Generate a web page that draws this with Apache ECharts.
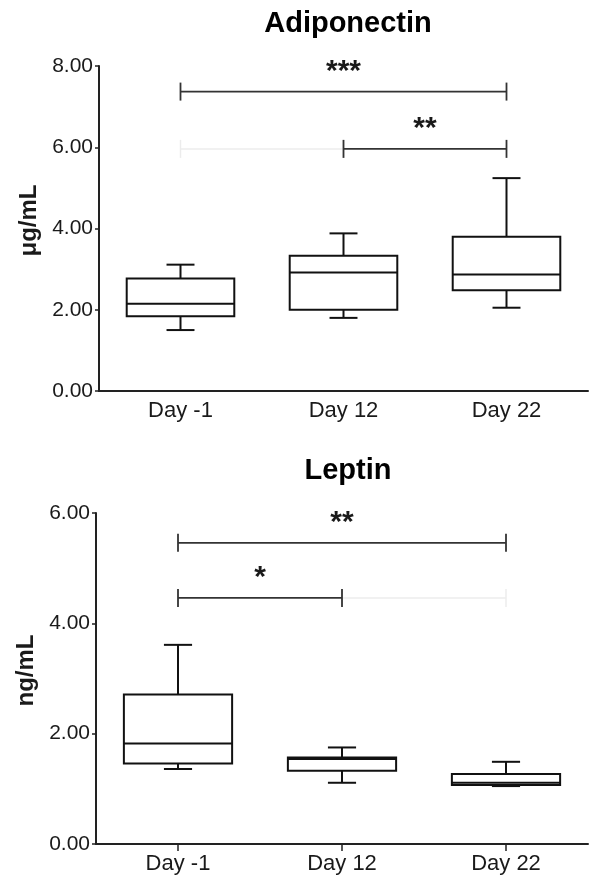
<!DOCTYPE html>
<html>
<head>
<meta charset="utf-8">
<script src="https://cdn.jsdelivr.net/npm/echarts@6/dist/echarts.min.js"></script>
<style>
  html, body { margin: 0; padding: 0; background: #fff; }
  #chart { width: 589px; height: 875px; }
</style>
</head>
<body>
<div id="chart"></div>
<script>
// categories shared by both panels
const categories = ['Day -1', 'Day 12', 'Day 22'];

// box values: [min, Q1, median, Q3, max]
const adiponectinBox = [
  [1.50, 1.84, 2.15, 2.77, 3.11],
  [1.80, 2.00, 2.92, 3.33, 3.88],
  [2.05, 2.48, 2.87, 3.80, 5.24]
];
const leptinBox = [
  [1.36, 1.46, 1.82, 2.71, 3.61],
  [1.11, 1.33, 1.54, 1.57, 1.75],
  [1.05, 1.07, 1.11, 1.27, 1.49]
];

// significance brackets: [from index, to index, height, stars]
const adiponectinSig = [[0, 2, 7.37, '***'], [1, 2, 5.96, '**']];
const leptinSig = [[0, 2, 5.46, '**'], [0, 1, 4.46, '*']];
// faint leftover brackets in the figure
const adiponectinGhost = [[0, 1, 5.96, '']];
const leptinGhost = [[1, 2, 4.46, '']];

const yTicksAdipo = { min: 0, max: 8, interval: 2 };
const yTicksLeptin = { min: 0, max: 6, interval: 2 };

const FONT = 'Liberation Sans, Arial, Helvetica, sans-serif';
const INK = '#1a1a1a';

const chart = echarts.init(document.getElementById('chart'));

// draws one box-and-whisker from api coords
const renderBox = (params, api) => {
  const x = api.value(0);
  const lo = api.coord([x, api.value(1)]);
  const q1 = api.coord([x, api.value(2)]);
  const med = api.coord([x, api.value(3)]);
  const q3 = api.coord([x, api.value(4)]);
  const hi = api.coord([x, api.value(5)]);
  const bw = api.size([1, 0])[0] * 0.66;
  const cap = bw * 0.26;
  const cx = q1[0];
  const st = { stroke: '#111', lineWidth: 2, fill: null };
  return {
    type: 'group',
    children: [
      { type: 'line', shape: { x1: cx, y1: q3[1], x2: cx, y2: hi[1] }, style: st },
      { type: 'line', shape: { x1: cx - cap / 2, y1: hi[1], x2: cx + cap / 2, y2: hi[1] }, style: st },
      { type: 'line', shape: { x1: cx, y1: q1[1], x2: cx, y2: lo[1] }, style: st },
      { type: 'line', shape: { x1: cx - cap / 2, y1: lo[1], x2: cx + cap / 2, y2: lo[1] }, style: st },
      { type: 'rect', shape: { x: cx - bw / 2, y: q3[1], width: bw, height: q1[1] - q3[1] },
        style: { stroke: '#111', lineWidth: 2, fill: '#fff' } },
      { type: 'line', shape: { x1: cx - bw / 2, y1: med[1], x2: cx + bw / 2, y2: med[1] }, style: st }
    ]
  };
};

// draws a significance bracket with end ticks and stars
const makeBracketRenderer = (color, width) => (params, api) => {
  const a = api.coord([api.value(0), api.value(2)]);
  const b = api.coord([api.value(1), api.value(2)]);
  const st = { stroke: color, lineWidth: width };
  const label = api.value(3);
  const kids = [
    { type: 'line', shape: { x1: a[0], y1: a[1], x2: b[0], y2: b[1] }, style: st },
    { type: 'line', shape: { x1: a[0], y1: a[1] - 9, x2: a[0], y2: a[1] + 9 }, style: st },
    { type: 'line', shape: { x1: b[0], y1: b[1] - 9, x2: b[0], y2: b[1] + 9 }, style: st }
  ];
  if (label) {
    kids.push({
      type: 'text',
      style: {
        text: label, x: (a[0] + b[0]) / 2, y: a[1] - 20,
        align: 'center', verticalAlign: 'middle',
        font: 'bold 30px ' + FONT, fill: INK
      }
    });
  }
  return { type: 'group', children: kids };
};

const boxData = arr => arr.map((v, i) => [i].concat(v));
const sigDim = ['from', 'to', 'y', { name: 'label', type: 'ordinal' }];

const yAxisBase = (ticks, name) => ({
  type: 'value',
  min: ticks.min,
  max: ticks.max,
  interval: ticks.interval,
  name: name,
  nameLocation: 'middle',
  nameGap: 57,
  nameRotate: 90,
  nameTextStyle: { fontFamily: FONT, fontSize: 24, fontWeight: 'bold', color: INK, padding: [0, 0, 0, 16] },
  axisLine: { show: true, lineStyle: { color: '#222', width: 2 } },
  axisTick: { show: true, length: 4, lineStyle: { color: '#222', width: 1.5 } },
  axisLabel: { fontFamily: FONT, fontSize: 21, color: INK, margin: 6, formatter: v => v.toFixed(2) },
  splitLine: { show: false }
});

const xAxisBase = (idx, ticks) => ({
  type: 'category',
  gridIndex: idx,
  data: categories,
  axisLine: { show: true, lineStyle: { color: '#222', width: 2 } },
  axisTick: { show: ticks, alignWithLabel: true, length: 7, lineStyle: { color: '#222', width: 1.5 } },
  axisLabel: { fontFamily: FONT, fontSize: 22, color: INK, margin: 9 }
});

const option = {
  animation: false,
  backgroundColor: '#fff',
  title: [
    { text: 'Adiponectin', left: 343, top: 4, textAlign: 'center',
      textStyle: { fontFamily: FONT, fontSize: 29, fontWeight: 'bold', color: '#000' } },
    { text: 'Leptin', left: 343, top: 451, textAlign: 'center',
      textStyle: { fontFamily: FONT, fontSize: 29, fontWeight: 'bold', color: '#000' } }
  ],
  grid: [
    { left: 99, top: 66, width: 489, height: 325 },
    { left: 96, top: 513, width: 492, height: 331 }
  ],
  xAxis: [xAxisBase(0, false), xAxisBase(1, true)],
  yAxis: [
    Object.assign(yAxisBase(yTicksAdipo, 'μg/mL'), { gridIndex: 0 }),
    Object.assign(yAxisBase(yTicksLeptin, 'ng/mL'), { gridIndex: 1 })
  ],
  series: [
    { type: 'custom', xAxisIndex: 0, yAxisIndex: 0, renderItem: makeBracketRenderer('#ececec', 1.5),
      dimensions: sigDim, data: adiponectinGhost, silent: true },
    { type: 'custom', xAxisIndex: 1, yAxisIndex: 1, renderItem: makeBracketRenderer('#ececec', 1.5),
      dimensions: sigDim, data: leptinGhost, silent: true },
    { type: 'custom', xAxisIndex: 0, yAxisIndex: 0, renderItem: makeBracketRenderer('#333', 1.8),
      dimensions: sigDim, data: adiponectinSig },
    { type: 'custom', xAxisIndex: 1, yAxisIndex: 1, renderItem: makeBracketRenderer('#333', 1.8),
      dimensions: sigDim, data: leptinSig },
    { type: 'custom', name: 'Adiponectin', xAxisIndex: 0, yAxisIndex: 0, renderItem: renderBox,
      data: boxData(adiponectinBox) },
    { type: 'custom', name: 'Leptin', xAxisIndex: 1, yAxisIndex: 1, renderItem: renderBox,
      data: boxData(leptinBox) }
  ]
};

chart.setOption(option);
window.addEventListener('resize', () => chart.resize());
</script>
</body>
</html>
